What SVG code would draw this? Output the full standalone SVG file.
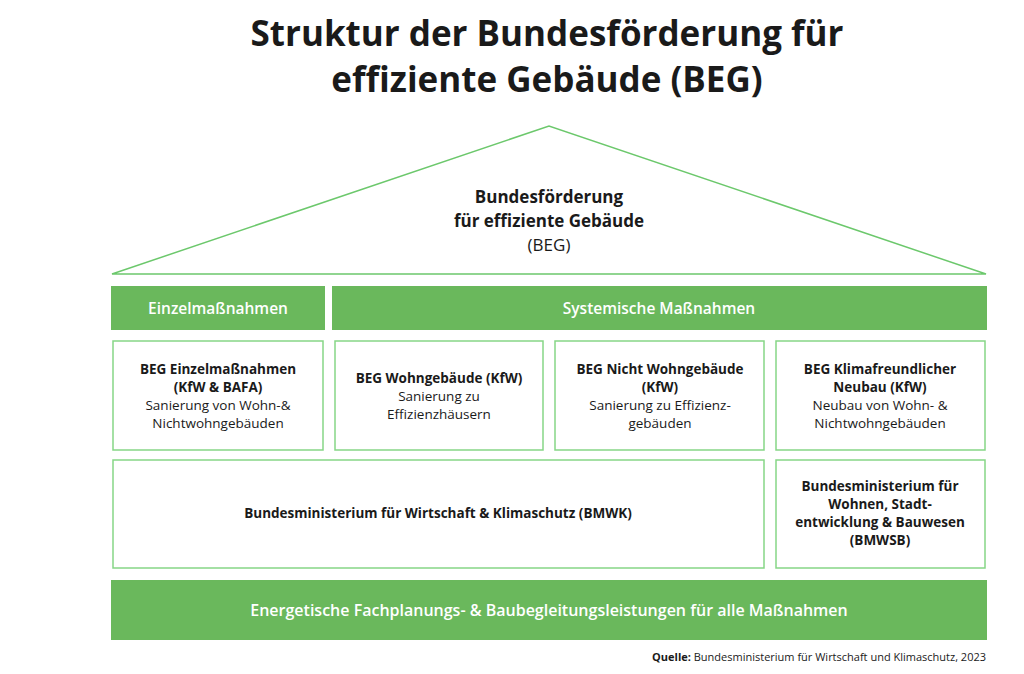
<svg xmlns="http://www.w3.org/2000/svg" width="1024" height="674" viewBox="0 0 1024 674">
<style>
text{font-family:"Open Sans","Noto Sans",sans-serif;text-anchor:middle;fill:#1a1a1a}
.t{font-size:35px;font-weight:700}
.b{font-size:13.5px;font-weight:700}
.n{font-size:13.5px}
.w{fill:#fff;font-size:15.5px;font-weight:600}
.g{fill:#6ab85c}
.box{fill:#fff;stroke:#86d686;stroke-width:1.5}
</style>
<rect width="1024" height="674" fill="#fff"/>
<text class="t" x="547" y="46">Struktur der Bundesförderung für</text>
<text class="t" x="547" y="92">effiziente Gebäude (BEG)</text>
<g id="roof">
<polygon points="112,274 549,126 986,274" fill="#fff" stroke="#6cc86c" stroke-width="1.5"/>
<text x="549" y="203" style="font-size:17px;font-weight:700">Bundesförderung</text>
<text x="549" y="227" style="font-size:17px;font-weight:700">für effiziente Gebäude</text>
<text x="549" y="251" style="font-size:17px">(BEG)</text>
</g>
<g id="einzel"><rect class="g" x="111" y="286" width="214" height="44"/><text class="w" x="218" y="314">Einzelmaßnahmen</text></g>
<g id="systemisch"><rect class="g" x="332" y="286" width="655" height="44"/><text class="w" x="659" y="314">Systemische Maßnahmen</text></g>
<g id="beg-einzel"><rect class="box" x="113" y="341" width="210" height="109"/>
<text class="b" x="218" y="374">BEG Einzelmaßnahmen</text><text class="b" x="218" y="392">(KfW &amp; BAFA)</text>
<text class="n" x="218" y="410">Sanierung von Wohn-&amp;</text><text class="n" x="218" y="428">Nichtwohngebäuden</text></g>
<g id="beg-wohn"><rect class="box" x="335" y="341" width="208" height="109"/>
<text class="b" x="439" y="383">BEG Wohngebäude (KfW)</text>
<text class="n" x="439" y="401">Sanierung zu</text><text class="n" x="439" y="419">Effizienzhäusern</text></g>
<g id="beg-nicht"><rect class="box" x="555" y="341" width="209" height="109"/>
<text class="b" x="660" y="374">BEG Nicht Wohngebäude</text><text class="b" x="660" y="392">(KfW)</text>
<text class="n" x="660" y="410">Sanierung zu Effizienz-</text><text class="n" x="660" y="428">gebäuden</text></g>
<g id="beg-neubau"><rect class="box" x="776" y="341" width="209" height="109"/>
<text class="b" x="880" y="374">BEG Klimafreundlicher</text><text class="b" x="880" y="392">Neubau (KfW)</text>
<text class="n" x="880" y="410">Neubau von Wohn- &amp;</text><text class="n" x="880" y="428">Nichtwohngebäuden</text></g>
<g id="bmwk"><rect class="box" x="113" y="460" width="651" height="108"/>
<text class="b" x="438" y="518">Bundesministerium für Wirtschaft &amp; Klimaschutz (BMWK)</text></g>
<g id="bmwsb"><rect class="box" x="776" y="460" width="209" height="108"/>
<text class="b" x="880" y="491">Bundesministerium für</text><text class="b" x="880" y="509">Wohnen, Stadt-</text>
<text class="b" x="880" y="527">entwicklung &amp; Bauwesen</text><text class="b" x="880" y="545">(BMWSB)</text></g>
<g id="fach"><rect class="g" x="111" y="580" width="876" height="60"/>
<text class="w" x="549" y="616" style="font-size:16px">Energetische Fachplanungs- &amp; Baubegleitungsleistungen für alle Maßnahmen</text></g>
<g id="connectors"/>
<text x="986" y="661" style="text-anchor:end;font-size:11px"><tspan font-weight="700">Quelle:</tspan> Bundesministerium für Wirtschaft und Klimaschutz, 2023</text>
</svg>
